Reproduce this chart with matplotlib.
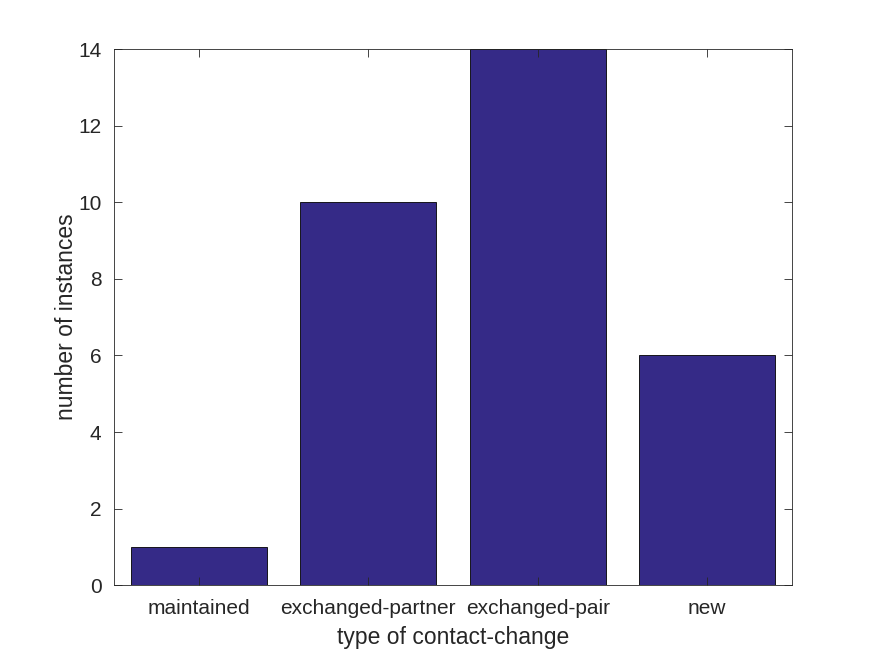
import matplotlib.pyplot as plt
import numpy as np

categories = ["maintained", "exchanged-partner", "exchanged-pair", "new"]
counts = [1, 10, 14, 6]

plt.rcParams['font.family'] = ['Liberation Sans', 'DejaVu Sans']

fig = plt.figure(figsize=(8.75, 6.56), dpi=100)
ax = fig.add_axes([0.1303, 0.108, 0.7749, 0.817])

x = np.arange(1, len(categories) + 1)
ax.bar(x, counts, width=0.8, color=(0.2081, 0.1663, 0.5292), edgecolor='black', linewidth=0.6)

ax.set_xlim(0.5, 4.5)
ax.set_ylim(0, 14)
ax.set_xticks(x)
ax.set_xticklabels(categories)
ax.set_yticks(range(0, 15, 2))

dark = (0.15, 0.15, 0.15)
ax.tick_params(direction='in', top=True, right=True, length=6, width=0.6,
               colors=dark, labelsize=15)
ax.tick_params(axis='x', pad=10)
ax.tick_params(axis='y', pad=9)
for s in ax.spines.values():
    s.set_linewidth(0.6)
    s.set_color(dark)

ax.set_xlabel("type of contact-change", fontsize=16.5, color=dark, labelpad=6)
ax.set_ylabel("number of instances", fontsize=16.5, color=dark, labelpad=0)

fig.savefig("out.png")
